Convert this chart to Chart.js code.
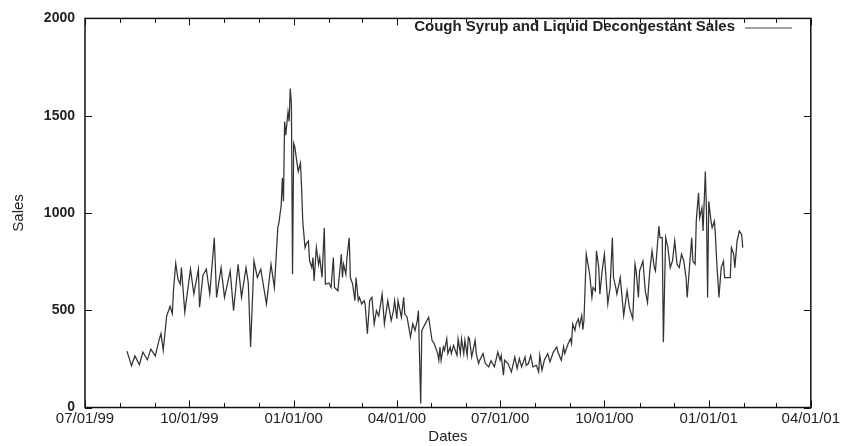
<!DOCTYPE html>
<html>
<head>
<meta charset="utf-8">
<script src="https://cdn.jsdelivr.net/npm/chart.js@4.4.1/dist/chart.umd.min.js"></script>
<style>
  html, body { margin: 0; padding: 0; background: #fff; }
</style>
</head>
<body>
<canvas id="salesChart" width="842" height="446"></canvas>
<script>
// days counted from 07/01/99
const saleDays = [
  37, 41, 44, 48, 51, 55, 58, 62, 65, 67, 69, 72, 75, 77, 78, 80, 82, 84, 85, 88,
  93, 96, 100, 101, 104, 107, 110, 114, 116, 120, 123, 128, 131, 135, 138, 142, 144, 146, 149, 152,
  155, 160, 164, 167, 170, 171,
  173, 174, 175, 176, 177, 179, 180, 181, 182, 183, 184, 185, 188, 190, 191, 192, 194, 195, 197, 198,
  200, 201, 202, 204, 206, 207, 209, 211, 212, 215, 217, 219, 220, 223, 226, 227, 228, 230, 231, 233,
  234, 236, 238, 239, 241, 242, 244, 246, 247, 249, 251, 253, 255, 257, 259, 262, 264, 267, 270, 272,
  273, 275, 276, 279, 281, 282, 284, 287, 289, 291, 293, 294, 296, 297, 300, 303, 306, 308,
  311, 312, 313, 314, 316, 317, 319, 320, 322, 323, 325, 328, 329, 331, 332, 334, 335, 337, 338, 339,
  341, 344, 345, 347, 348, 351, 353, 356, 358, 361, 364, 366, 367, 369, 370, 373, 376, 379, 381, 383,
  385, 388, 389, 391, 393, 395, 398, 400, 401, 403, 405, 408, 410, 413, 416, 417, 420, 422, 423, 426,
  428, 429, 430, 432, 433, 435, 436, 438, 439, 440, 442, 445, 447, 448, 450, 451, 453, 454, 456, 458,
  460, 461, 463, 465, 466, 468, 469, 472, 475, 476, 478, 480, 483, 485, 486, 488, 489, 492, 494, 496,
  498, 500, 502, 503, 506, 507, 509, 510, 512, 514, 516, 518, 520, 522, 524, 526, 528, 530, 531, 533,
  535, 536, 538, 539, 541, 542, 544, 545, 547, 548, 549, 550, 552, 553, 555, 556, 557, 559, 561, 563,
  564, 566, 569, 570, 572, 573, 575, 577, 579, 580
];

const sales = [
  290, 215, 265, 220, 285, 245, 300, 265, 340, 380, 295, 470, 520, 482, 600, 740, 660, 634, 720, 490,
  711, 583, 711, 515, 680, 711, 583, 872, 566, 719, 566, 702, 498, 736, 566, 719, 640, 311, 753, 668,
  711, 532, 736, 617, 924, 949,
  1040, 1180, 1060, 1470, 1400, 1520, 1470, 1640, 1560, 685, 1358, 1340, 1213, 1256, 1128, 958, 822, 840, 856, 754,
  719, 771, 651, 822, 736, 771, 668, 924, 634, 640, 617, 771, 617, 600, 788, 668, 736, 685, 771, 873,
  668, 634, 549, 668, 549, 566, 532, 549, 532, 379, 549, 566, 430, 498, 470, 583, 430, 549, 447, 498,
  549, 456, 549, 464, 566, 480, 464, 362, 430, 396, 447, 498, 21, 396, 430, 464, 345, 328,
  277, 243, 311, 243, 311, 294, 353, 277, 311, 277, 319, 268, 353, 277, 353, 277, 345, 268, 362, 353,
  260, 345, 277, 226, 243, 277, 226, 209, 240, 209, 285, 243, 268, 166, 243, 226, 183, 260, 200, 251,
  209, 260, 217, 226, 268, 209, 217, 183, 268, 192, 243, 277, 234, 285, 311, 285, 243, 311, 277, 328,
  353, 328, 430, 396, 430, 456, 420, 473, 400, 450, 788, 685, 566, 617, 600, 805, 719, 583, 702, 788,
  617, 532, 617, 873, 668, 617, 583, 668, 473, 515, 600, 515, 456, 737, 702, 566, 702, 753, 600, 540,
  702, 805, 719, 702, 932, 873, 873, 336, 873, 822, 719, 753, 856, 737, 719, 788, 753, 668, 566, 719,
  873, 753, 737, 958, 1103, 975, 1026, 907, 1213, 1010, 566, 1060, 958, 924, 958, 873, 753, 566, 719, 753,
  668, 668, 668, 822, 788, 719, 856, 907, 890, 822
];

const tickLabels = ['07/01/99', '10/01/99', '01/01/00', '04/01/00', '07/01/00', '10/01/00', '01/01/01', '04/01/01'];
const seriesName = 'Cough Syrup and Liquid Decongestant Sales';

const origin = Date.UTC(1999, 6, 1);
const dayOf = (y, m) => (Date.UTC(y, m, 1) - origin) / 86400000;
const monthDays = [];
for (let k = 0; k <= 21; k++) monthDays.push(dayOf(1999, 6 + k));
const quarterDays = monthDays.filter((d, k) => k % 3 === 0);

const ink = '#222';

const gnuplotFrame = {
  id: 'gnuplotFrame',
  afterDatasetsDraw(chart) {
    const { ctx, chartArea: a, scales: { x, y } } = chart;
    ctx.save();
    ctx.strokeStyle = '#111';
    ctx.lineWidth = 1.5;
    ctx.strokeRect(a.left, a.top, a.right - a.left, a.bottom - a.top);

    ctx.lineWidth = 1;
    ctx.beginPath();
    monthDays.forEach((d, k) => {
      const px = Math.round(x.getPixelForValue(d)) + 0.5;
      const len = k % 3 === 0 ? 7 : 4.5;
      ctx.moveTo(px, a.bottom); ctx.lineTo(px, a.bottom - len);
      ctx.moveTo(px, a.top); ctx.lineTo(px, a.top + len);
    });
    for (let v = 0; v <= 2000; v += 500) {
      const py = Math.round(y.getPixelForValue(v)) + 0.5;
      ctx.moveTo(a.left, py); ctx.lineTo(a.left + 7, py);
      ctx.moveTo(a.right, py); ctx.lineTo(a.right - 7, py);
    }
    ctx.stroke();

    // key: text then sample line
    ctx.font = 'bold 15px "Liberation Sans", Arial, sans-serif';
    ctx.fillStyle = ink;
    ctx.textAlign = 'right';
    ctx.textBaseline = 'middle';
    ctx.fillText(seriesName, 735, 27);
    ctx.strokeStyle = '#444';
    ctx.lineWidth = 1.2;
    ctx.beginPath();
    ctx.moveTo(745, 28); ctx.lineTo(792, 28);
    ctx.stroke();
    ctx.restore();
  }
};

new Chart(document.getElementById('salesChart'), {
  type: 'line',
  data: {
    datasets: [{
      label: seriesName,
      data: saleDays.map((d, i) => ({ x: d, y: sales[i] })),
      borderColor: '#333',
      borderWidth: 1.25,
      pointRadius: 0,
      tension: 0,
      fill: false
    }]
  },
  options: {
    responsive: false,
    animation: false,
    layout: { padding: { left: 0, top: 16, right: 31, bottom: 0 } },
    plugins: { legend: { display: false }, tooltip: { enabled: false } },
    scales: {
      x: {
        type: 'linear',
        min: 0,
        max: dayOf(2001, 3),
        afterBuildTicks: s => { s.ticks = quarterDays.map(v => ({ value: v })); },
        afterFit: s => { s.height = 38.5; },
        grid: { display: false, drawTicks: false },
        border: { display: false },
        ticks: {
          autoSkip: false,
          maxRotation: 0,
          padding: 2,
          color: ink,
          font: { family: '"Liberation Sans", Arial, sans-serif', size: 15 },
          callback: (v, i) => tickLabels[i]
        },
        title: {
          display: true,
          text: 'Dates',
          color: ink,
          font: { family: '"Liberation Sans", Arial, sans-serif', size: 15 },
          padding: { top: 0, bottom: 0 }
        }
      },
      y: {
        min: 0,
        max: 2000,
        afterFit: s => { s.width = 85; },
        grid: { display: false, drawTicks: false },
        border: { display: false },
        ticks: {
          stepSize: 500,
          padding: 10,
          color: ink,
          font: { family: '"Liberation Sans", Arial, sans-serif', size: 14, weight: 'bold' },
          callback: v => String(v)
        },
        title: {
          display: true,
          text: 'Sales',
          color: ink,
          font: { family: '"Liberation Sans Narrow", "Liberation Sans", sans-serif', size: 15 },
          padding: { top: 10, bottom: 0 }
        }
      }
    }
  },
  plugins: [gnuplotFrame]
});
</script>
</body>
</html>
